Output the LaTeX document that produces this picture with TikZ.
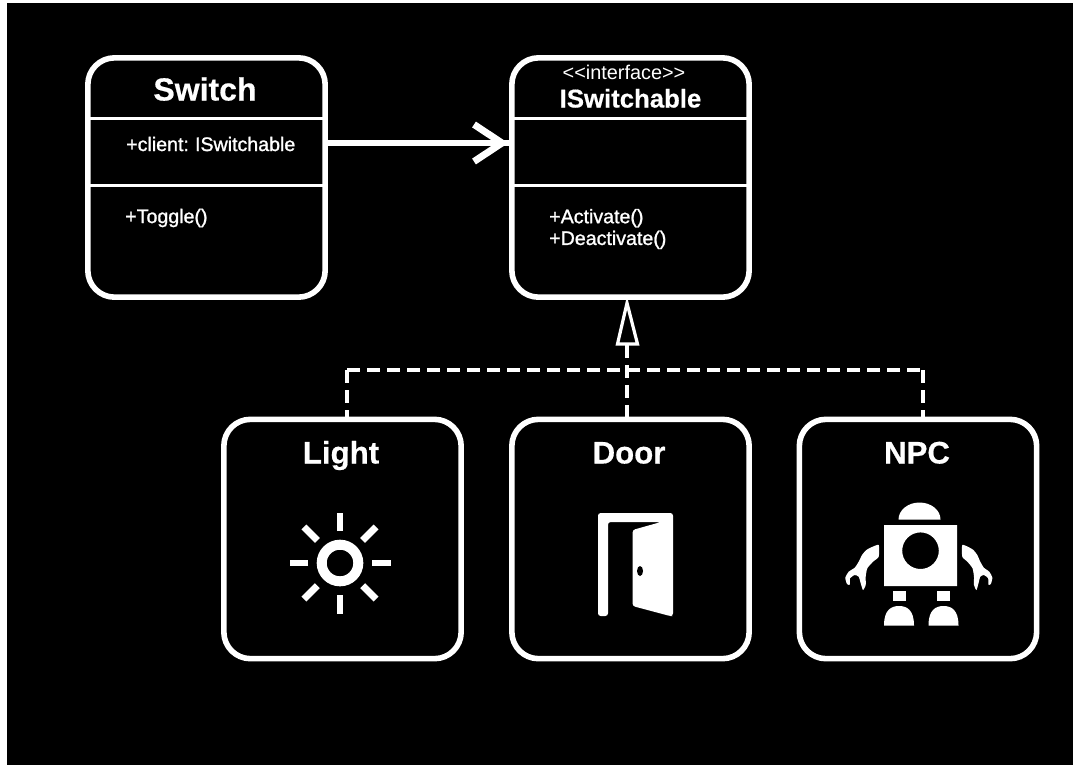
\documentclass[tikz,border=0pt]{standalone}
\usepackage{fontspec}
\setmainfont[BoldFeatures={FakeBold=0.5}]{Liberation Sans}
\newfontfamily\medf[FakeBold=1.2,WordSpace=0.8]{Liberation Sans}
\newfontfamily\regf{Liberation Sans}
\begin{document}
\begin{tikzpicture}[x=0.75pt,y=-0.75pt,
  box/.style={draw=white,line width=4.2pt,rounded corners=20pt,fill=black,minimum width=178pt,minimum height=179.5pt,inner sep=0pt,outer sep=0pt},
  divider/.style={white,line width=2pt},
  title/.style={text=white,font=\fontsize{23.4}{25}\selectfont\bfseries,inner sep=0pt,anchor=base},
  member/.style={text=white,font=\fontsize{14.7}{16.3}\medf,inner sep=0pt,anchor=west,align=left},
  stereo/.style={text=white,font=\fontsize{14.9}{16}\regf,inner sep=0pt,anchor=base},
  assoc/.style={white,line width=4.6pt},
  realize/.style={white,line width=2.5pt,dash pattern=on 10pt off 5pt},
  ray/.style={white,line width=5.2pt},
  ink/.style={fill=white,draw=none}]
\useasboundingbox (0,0) rectangle (1073,765);
\fill[white] (0,0) rectangle (1073,765);
\fill[black] (7,3) rectangle (1073,765);
% boxes
\node[box] (sw) at (206.5,177.5) {};
\node[box] (if) at (630.5,177.5) {};
\node[box] (li) at (342.5,539) {};
\node[box] (do) at (630.5,539) {};
\node[box] (np) at (918,539) {};
% dividers
\foreach \b in {sw,if}{
  \draw[divider] (\b.west |- 0,118.5) -- (\b.east |- 0,118.5);
  \draw[divider] (\b.west |- 0,185.5) -- (\b.east |- 0,185.5);
}
% texts
\node[title,font=\fontsize{24}{26}\selectfont\bfseries] (tsw) at (205,100.5) {Switch};
\node[member] (msw1) at (126,144) {+client: ISwitchable};
\node[member] (msw2) at (125,218) {+Toggle()};
\node[stereo] (tst) at (624,79) {<{}<interface>{}>};
\node[title,font=\fontsize{19.3}{21}\selectfont\bfseries] (tif) at (630.5,107.5) {ISwitchable};
\node[member] (mif) at (549,229) {+Activate()\\+Deactivate()};
\node[title] (tli) at (341,463.5) {Light};
\node[title] (tdo) at (629,463.5) {Door};
\node[title] (tnp) at (917,463.5) {NPC};
% association
\coordinate (ay) at (0,143);
\draw[assoc] (sw.east |- ay) -- (if.west |- ay);
\coordinate (tipa) at (502,143);
\draw[white,line width=5.2pt,line join=miter] (474,124.5) -- (tipa) -- (474,161.5);
% realization
\coordinate (tri) at (627,303);
\coordinate (trib) at (627,345);
\coordinate (lx) at (347,370);
\coordinate (nx) at (923,370);
\draw[realize] (lx) -- (nx);
\draw[realize] (lx) -- (lx |- li.north);
\draw[realize] (nx) -- (nx |- np.north);
\draw[realize] (trib) -- (trib |- do.north);
\draw[white,line width=2.4pt,fill=black,line join=miter] (tri) -- (617.5,344) -- (637.5,344) -- cycle;
% sun
\begin{scope}[shift={(340,563)}]
  \draw[white,line width=7.5pt] (0,0) circle (18.3);
  \foreach \a in {0,90,180,270}
    \draw[ray] (\a:32) -- (\a:50.5);
  \foreach \a in {45,135,225,315}
    \draw[ray] (\a:32) -- (\a:51);
\end{scope}
% door
\fill[ink,rounded corners=2pt] (598,513) -- (673,513) -- (673,616) -- (670,616) -- (632.5,606) -- (632.5,530) -- (661,522) -- (608,522) -- (608,616) -- (598,616) -- cycle;
\fill[black] (640,571) ellipse (3 and 5);
% robot
\fill[ink] (898.5,519.5) arc[start angle=180,end angle=360,x radius=21,y radius=17] -- cycle;
\fill[ink,even odd rule] (884,525) rectangle (957,586) (920.5,550.7) circle (18.3);
\fill[ink] (893,591) rectangle (906,601);
\fill[ink] (937,591) rectangle (950,601);
\fill[ink] (884,625.5) .. controls (884,610) and (891,606) .. (899,606) .. controls (907,606) and (914,610) .. (914,625.5) -- cycle;
\fill[ink] (928.5,625.5) .. controls (928.5,610) and (935.5,606) .. (943.5,606) .. controls (951.5,606) and (958.5,610) .. (958.5,625.5) -- cycle;
\foreach \s/\o in {1/0,-0.9/1753.1}{
\begin{scope}[shift={(\o,0)},xscale=\s]
  \fill[ink] plot[smooth cycle,tension=0.35] coordinates {(878.7,545) (871.3,547.3) (866.3,550) (862,555) (858.7,561.7) (854.7,567.7) (848.7,571.7) (845.3,577.7) (847,584) (849.7,584.7) (850,578.3) (854.7,575) (858.7,576.7) (860.7,583.3) (863,590) (865.7,585) (865.7,576.7) (867.3,568.3) (873,561.7) (878.7,556.7)};
\end{scope}}
\end{tikzpicture}
\end{document}
